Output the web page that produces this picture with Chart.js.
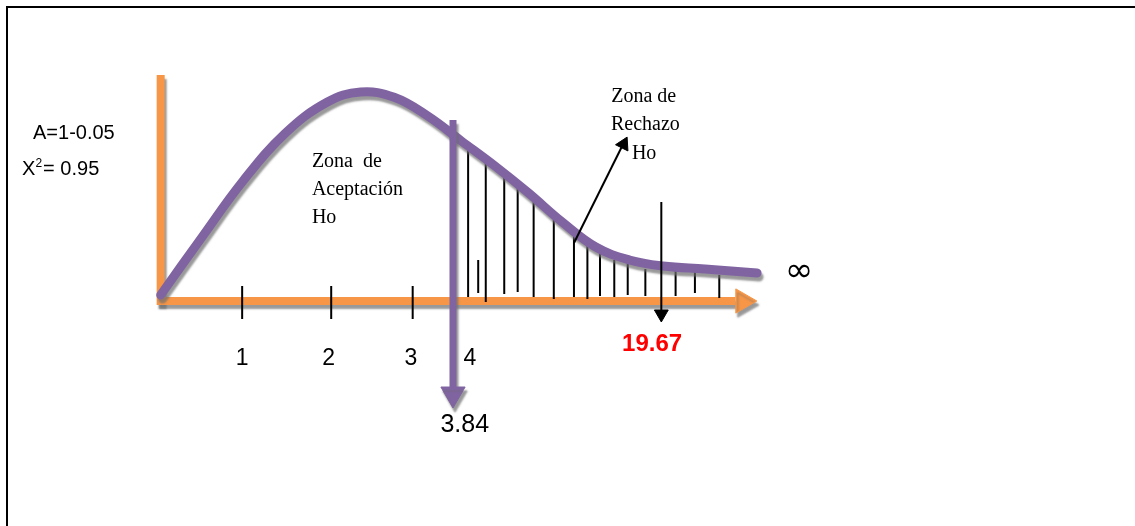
<!DOCTYPE html>
<html>
<head>
<meta charset="utf-8">
<script src="https://cdn.jsdelivr.net/npm/chart.js@4.4.0/dist/chart.umd.min.js"></script>
<style>
  html, body { margin: 0; padding: 0; background: #fff; overflow: hidden; }
  #wrap { position: relative; width: 1135px; height: 526px; }
</style>
</head>
<body>
<div id="wrap"><canvas id="chi_chart"></canvas></div>
<script>
// curve (x = axis units, y = height units)
var curveX = [0.02, 0.5, 1.0, 1.5, 2.0, 2.4, 2.8, 3.2, 3.6, 4.0, 4.4, 4.8, 5.2, 5.6, 6.0, 6.5, 7.12];
var curveY = [0.24, 2.5, 4.8, 6.7, 7.95, 8.36, 8.15, 7.4, 6.4, 5.4, 4.32, 3.16, 2.16, 1.64, 1.4, 1.28, 1.12];

// hatching of the rejection zone
var hatchX    = [3.68, 3.80, 3.89, 4.11, 4.27, 4.46, 4.70, 4.94, 5.10, 5.25, 5.42, 5.58, 5.79, 6.15, 6.38, 6.67];
var hatchTop  = [6.16, 1.64, 5.52, 5.16, 4.60, 4.08, 3.24, 2.88, 2.32, 2.08, 1.64, 1.64, 1.28, 1.20, 1.32, 1.04];
var hatchBase = [0.16, 0.32, -0.04, 0.28, 0.36, 0.16, 0.08, 0.16, 0.08, 0.20, 0.16, 0.24, 0.20, 0.20, 0.32, 0.12];

// tick marks on the x axis
var tickX = [0.99, 2.05, 3.02];
var tickTop = 0.6, tickBottom = -0.72;
var tickLabels = ['1', '2', '3', '4'];
var tickLabelX = [0.99, 2.02, 3.0, 3.70];

// critical values
var critical = 3.84, criticalX = 3.5;
var tableValue = 19.67, tableX = 5.98;

// axes
var axisTop = 9.04, axisEnd = 6.86, arrowTipX = 6.95;

var PURPLE = '#8064a2', ORANGE = '#f79646', BLACK = '#000000';

function seg(x0, y0, x1, y1, color, width, extra) {
   var d = {
      type: 'scatter',
      showLine: true,
      data: [{x: x0, y: y0}, {x: x1, y: y1}],
      borderColor: color,
      borderWidth: width,
      pointRadius: 0,
      clip: false
   };
   return Object.assign(d, extra || {});
}

function head(x, y, color, r, rot, extra) {
   var d = {
      type: 'scatter',
      data: [{x: x, y: y}],
      pointStyle: 'triangle',
      pointRadius: r,
      pointRotation: rot,
      backgroundColor: color,
      borderColor: color,
      borderWidth: 1,
      clip: false
   };
   return Object.assign(d, extra || {});
}

// drawn bottom to top, reversed below
var layers = [];
layers.push(seg(0.02, axisTop, 0.02, -0.16, ORANGE, 8, {shadow: true}));
layers.push(seg(-0.02, 0, axisEnd, 0, ORANGE, 8, {shadow: true}));
layers.push(head(arrowTipX, 0, ORANGE, 14, 90, {shadow: true}));
for (var i = 0; i < tickX.length; i++) {
   layers.push(seg(tickX[i], tickTop, tickX[i], tickBottom, BLACK, 2));
}
for (var j = 0; j < hatchX.length; j++) {
   layers.push(seg(hatchX[j], hatchBase[j], hatchX[j], hatchTop[j], BLACK, 2));
}
layers.push({
   type: 'scatter',
   showLine: true,
   data: curveX.map(function (x, k) { return {x: x, y: curveY[k]}; }),
   borderColor: PURPLE,
   borderWidth: 9,
   borderCapStyle: 'round',
   borderJoinStyle: 'round',
   tension: 0.4,
   pointRadius: 0,
   clip: false,
   shadow: true
});
layers.push(seg(criticalX, 7.24, criticalX, -3.48, PURPLE, 7, {shadow: true}));
layers.push(head(criticalX, -3.72, PURPLE, 14, 180, {shadow: true}));
layers.push(seg(tableX, 3.96, tableX, -0.44, BLACK, 2));
layers.push(head(tableX, -0.52, BLACK, 8, 180));
layers.push(seg(4.94, 2.32, 5.52, 6.24, BLACK, 2));
layers.push(head(5.53, 6.27, BLACK, 8, 26.6));
var datasets = layers.reverse();

// text notes, in scale units
var notes = [
   {t: 'A=1-0.05', x: -1.5, y: 6.48, font: '20px "Liberation Sans"', align: 'left'},
   {t: 'Zona  de', x: 1.82, y: 5.36, font: '20px "Liberation Serif"', align: 'left'},
   {t: 'Aceptación', x: 1.82, y: 4.24, font: '20px "Liberation Serif"', align: 'left'},
   {t: 'Ho', x: 1.82, y: 3.12, font: '20px "Liberation Serif"', align: 'left'},
   {t: 'Zona de', x: 5.77, y: 7.96, font: '20px "Liberation Serif"', align: 'center'},
   {t: 'Rechazo', x: 5.79, y: 6.84, font: '20px "Liberation Serif"', align: 'center'},
   {t: 'Ho', x: 5.63, y: 5.68, font: '20px "Liberation Serif"', align: 'left'},
   {t: String(critical), x: 3.64, y: -5.24, font: '25px "Liberation Sans"', align: 'center'},
   {t: String(tableValue), x: 5.87, y: -2.0, font: 'bold 24px "Liberation Sans"', align: 'center', color: '#ff0000'},
   {t: '\u221E', x: 7.62, y: 0.8, font: '34px "DejaVu Sans"', align: 'center'}
];

var framePlugin = {
   id: 'frame',
   beforeDraw: function (chart) {
      var ctx = chart.ctx;
      ctx.save();
      ctx.fillStyle = '#fff';
      ctx.fillRect(0, 0, chart.width, chart.height);
      ctx.strokeStyle = '#000';
      ctx.lineWidth = 2;
      ctx.beginPath();
      ctx.moveTo(7, chart.height + 5);
      ctx.lineTo(7, 7);
      ctx.lineTo(chart.width + 5, 7);
      ctx.stroke();
      ctx.restore();
   }
};

var shadowPlugin = {
   id: 'shadow',
   beforeDatasetDraw: function (chart, args) {
      var ctx = chart.ctx;
      ctx.save();
      if (chart.data.datasets[args.index].shadow) {
         ctx.shadowColor = 'rgba(110,110,110,0.7)';
         ctx.shadowOffsetX = 2;
         ctx.shadowOffsetY = 4;
         ctx.shadowBlur = 2;
      }
   },
   afterDatasetDraw: function (chart) {
      chart.ctx.restore();
   }
};

var textPlugin = {
   id: 'notes',
   afterDraw: function (chart) {
      var ctx = chart.ctx, sx = chart.scales.x, sy = chart.scales.y;
      ctx.save();
      ctx.textBaseline = 'alphabetic';
      notes.forEach(function (n) {
         ctx.font = n.font;
         ctx.fillStyle = n.color || '#000';
         ctx.textAlign = n.align;
         ctx.fillText(n.t, sx.getPixelForValue(n.x), sy.getPixelForValue(n.y));
      });
      // axis numbers
      ctx.font = '23px "Liberation Sans"';
      ctx.textAlign = 'center';
      ctx.fillStyle = '#000';
      tickLabels.forEach(function (lab, k) {
         ctx.fillText(lab, sx.getPixelForValue(tickLabelX[k]), sy.getPixelForValue(-2.56));
      });
      // X squared
      var px = sx.getPixelForValue(-1.63), py = sy.getPixelForValue(5.04);
      ctx.textAlign = 'left';
      ctx.font = '20px "Liberation Sans"';
      ctx.fillText('X', px, py);
      var w = ctx.measureText('X').width;
      ctx.font = '12px "Liberation Sans"';
      ctx.fillText('2', px + w, py - 8);
      var w2 = ctx.measureText('2').width;
      ctx.font = '20px "Liberation Sans"';
      ctx.fillText('= 0.95', px + w + w2 + 1, py);
      ctx.restore();
   }
};

var ctx = document.getElementById('chi_chart').getContext('2d');
var chi_chart = new Chart(ctx, {
   type: 'scatter',
   data: {datasets: datasets},
   options: {
      responsive: true,
      maintainAspectRatio: false,
      animation: false,
      layout: {autoPadding: false, padding: {left: 159, right: 136, top: 0, bottom: 0}},
      plugins: {legend: {display: false}, tooltip: {enabled: false}},
      scales: {
         x: {type: 'linear', min: 0, max: 10, display: false},
         y: {type: 'linear', min: -9.0, max: 12.04, display: false}
      }
   },
   plugins: [framePlugin, shadowPlugin, textPlugin]
});
</script>
</body>
</html>
